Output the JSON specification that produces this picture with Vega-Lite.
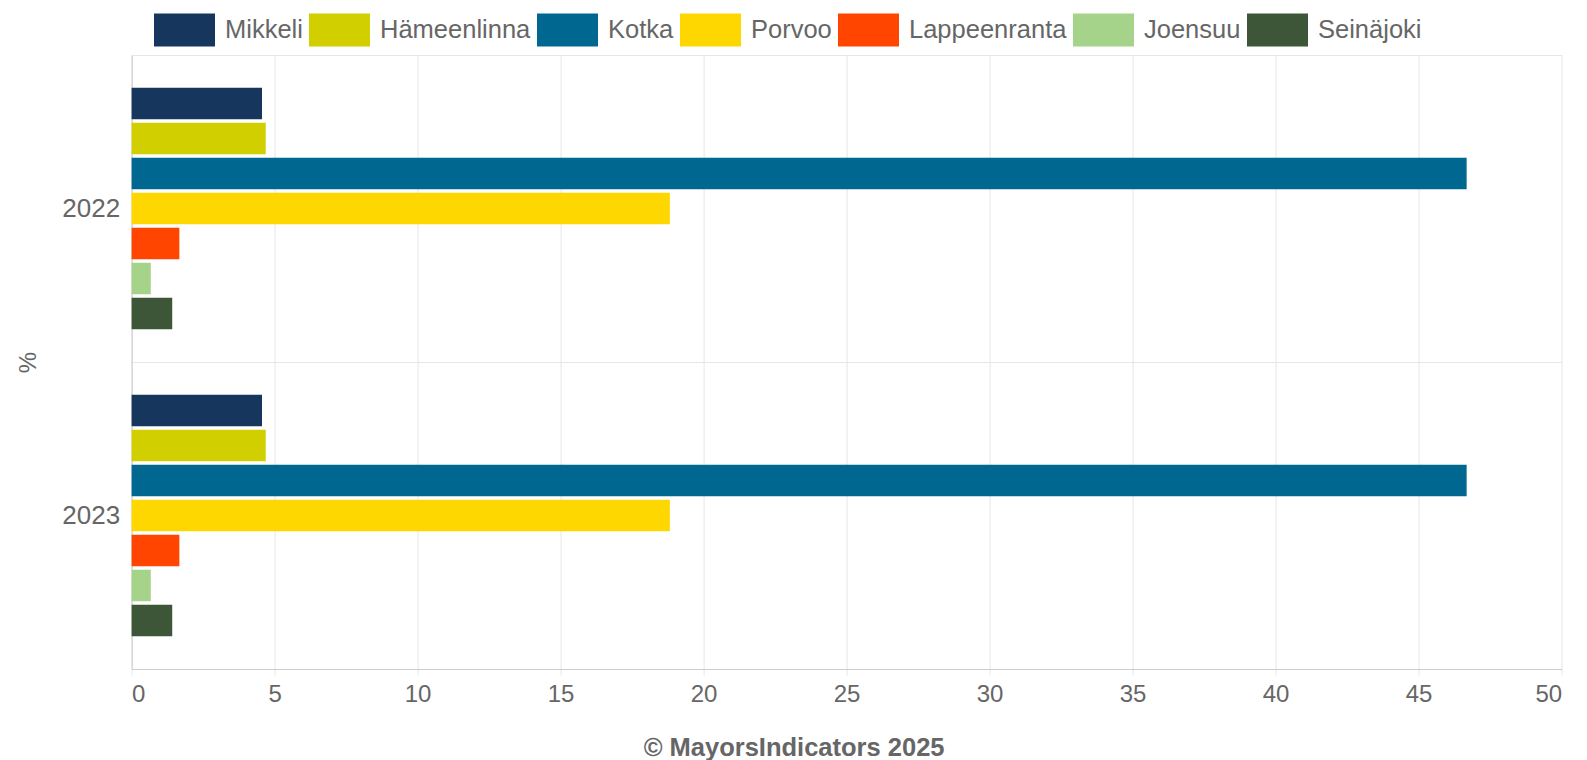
{
  "$schema": "https://vega.github.io/schema/vega-lite/v6.json",
  "width": 1430,
  "height": 614,
  "autosize": "none",
  "padding": {"left": 131.6, "top": 55, "right": 25.4, "bottom": 91},
  "background": "white",
  "config": {
    "view": {"stroke": null},
    "font": "Liberation Sans"
  },
  "data": {
    "values": [
      {"year": "2022", "city": "Mikkeli", "value": 4.56},
      {"year": "2022", "city": "Hämeenlinna", "value": 4.69},
      {"year": "2022", "city": "Kotka", "value": 46.68},
      {"year": "2022", "city": "Porvoo", "value": 18.82},
      {"year": "2022", "city": "Lappeenranta", "value": 1.67},
      {"year": "2022", "city": "Joensuu", "value": 0.67},
      {"year": "2022", "city": "Seinäjoki", "value": 1.42},
      {"year": "2023", "city": "Mikkeli", "value": 4.56},
      {"year": "2023", "city": "Hämeenlinna", "value": 4.69},
      {"year": "2023", "city": "Kotka", "value": 46.68},
      {"year": "2023", "city": "Porvoo", "value": 18.82},
      {"year": "2023", "city": "Lappeenranta", "value": 1.67},
      {"year": "2023", "city": "Joensuu", "value": 0.67},
      {"year": "2023", "city": "Seinäjoki", "value": 1.42}
    ]
  },
  "mark": {"type": "bar"},
  "encoding": {
    "y": {
      "field": "year",
      "type": "nominal",
      "scale": {"paddingInner": 0, "paddingOuter": 0},
      "axis": {
        "title": "%",
        "titleFont": "Liberation Sans",
        "titleFontSize": 24,
        "titleFontWeight": "normal",
        "titleColor": "#666666",
        "titleX": -103.6,
        "titleY": 307,
        "titleAlign": "center",
        "titleBaseline": "middle",
        "titleAngle": -90,
        "tickBand": "extent",
        "labelFont": "Liberation Sans",
        "labelFontSize": 26,
        "labelColor": "#666666",
        "labelPadding": 12,
        "labelAngle": 0,
        "ticks": false,
        "grid": true,
        "gridColor": "#e6e6e6",
        "gridWidth": 1,
        "domainColor": "#cccccc",
        "domainWidth": 1
      }
    },
    "yOffset": {
      "field": "city",
      "type": "nominal",
      "sort": ["Mikkeli", "Hämeenlinna", "Kotka", "Porvoo", "Lappeenranta", "Joensuu", "Seinäjoki"],
      "scale": {"paddingInner": 0.1, "paddingOuter": 0.936}
    },
    "x": {
      "field": "value",
      "type": "quantitative",
      "scale": {"domain": [0, 50], "nice": false},
      "axis": {
        "values": [0, 5, 10, 15, 20, 25, 30, 35, 40, 45, 50],
        "labelFont": "Liberation Sans",
        "labelFontSize": 24,
        "labelColor": "#666666",
        "labelPadding": 7,
        "tickSize": 6,
        "tickColor": "#e6e6e6",
        "gridColor": "#e6e6e6",
        "domainColor": "#cccccc",
        "title": "© MayorsIndicators 2025",
        "titleFont": "Liberation Sans",
        "titleFontSize": 25.5,
        "titleFontWeight": "bold",
        "titleColor": "#666666",
        "titleX": 662,
        "titleY": 78,
        "titleAlign": "center",
        "titleBaseline": "middle",
        "titleAnchor": null
      }
    },
    "color": {
      "field": "city",
      "type": "nominal",
      "sort": ["Mikkeli", "Hämeenlinna", "Kotka", "Porvoo", "Lappeenranta", "Joensuu", "Seinäjoki"],
      "scale": {
        "domain": ["Mikkeli", "Hämeenlinna", "Kotka", "Porvoo", "Lappeenranta", "Joensuu", "Seinäjoki"],
        "range": ["#17365e", "#d2cf00", "#006890", "#ffd700", "#ff4500", "#a6d38a", "#3c5637"]
      },
      "legend": {
        "title": null,
        "orient": "none",
        "direction": "horizontal",
        "legendX": 22.4,
        "legendY": -55.5,
        "symbolType": "M-1,-0.54L1,-0.54L1,0.54L-1,0.54Z",
        "symbolSize": 3721,
        "symbolStrokeWidth": 0,
        "symbolOpacity": 1,
        "labelFont": "Liberation Sans",
        "labelFontSize": 25.5,
        "labelColor": "#666666",
        "labelOffset": 10,
        "columnPadding": 6,
        "padding": 0,
        "labelLimit": 400
      }
    }
  }
}
